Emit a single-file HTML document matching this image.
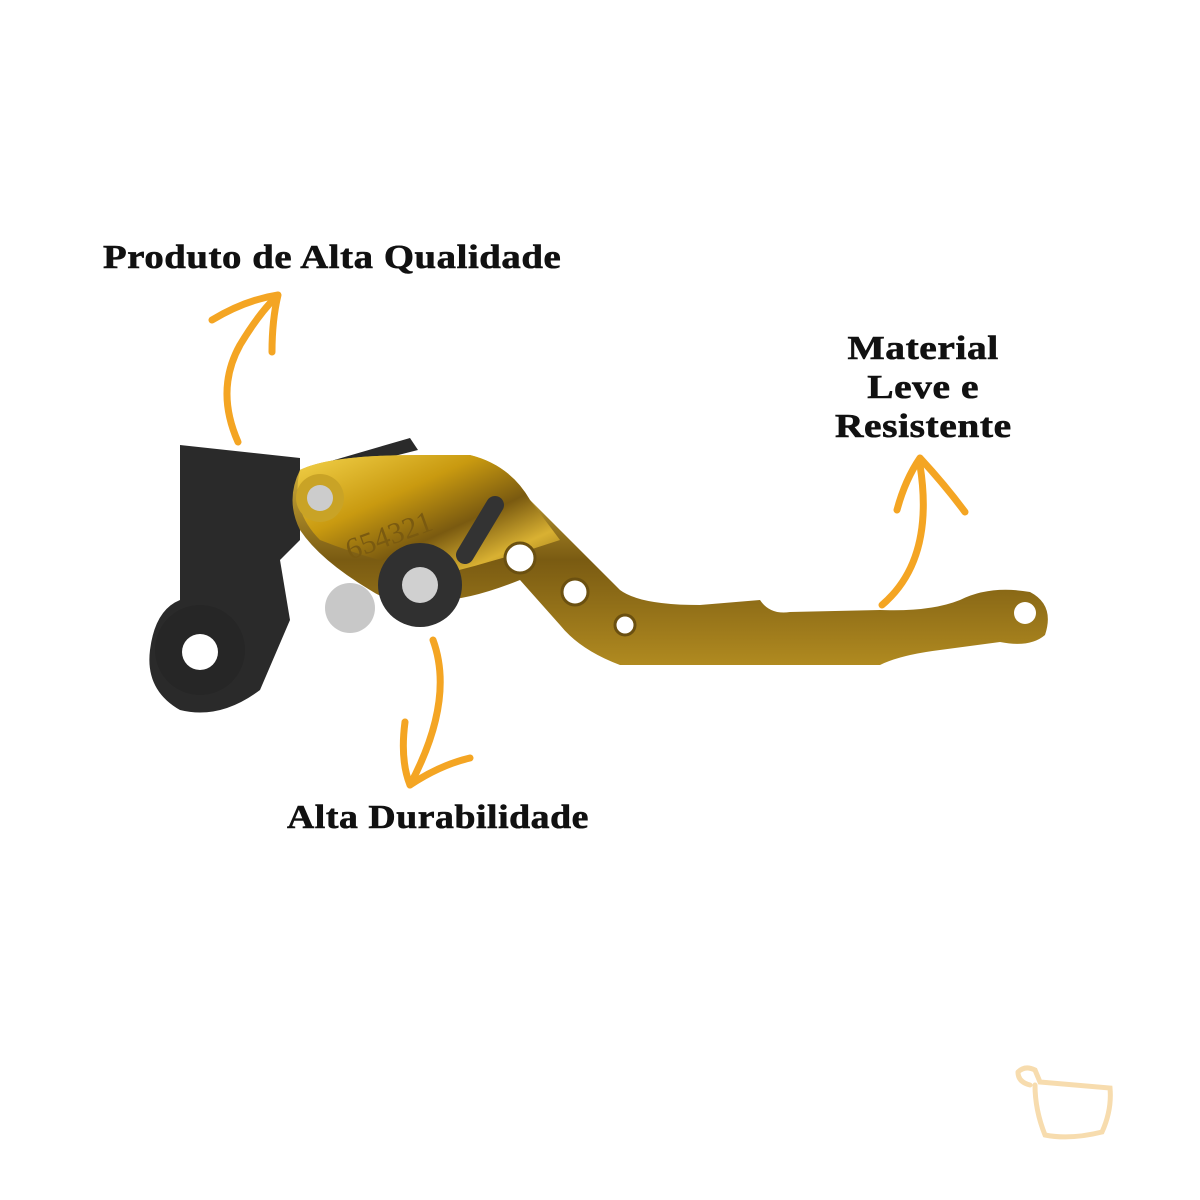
<!DOCTYPE html>
<html><head><meta charset="utf-8"><style>
html,body{margin:0;padding:0;background:#fff;}
body{width:1200px;height:1200px;position:relative;overflow:hidden;}
.t{position:absolute;font-family:"Liberation Serif",serif;font-weight:bold;color:#111;font-size:34px;white-space:nowrap;letter-spacing:0.5px;transform-origin:0 0;transform:scaleX(1.16);-webkit-text-stroke:0.6px #111;}
</style></head><body>
<svg width="1200" height="1200" style="position:absolute;left:0;top:0">
<defs>
<linearGradient id="g" x1="0" y1="0" x2="1" y2="1">
<stop offset="0" stop-color="#f3d24a"/><stop offset="0.35" stop-color="#c99a10"/>
<stop offset="0.6" stop-color="#7a5a10"/><stop offset="0.8" stop-color="#d9b132"/><stop offset="1" stop-color="#8a6812"/>
</linearGradient>
<linearGradient id="g2" x1="0" y1="0" x2="0" y2="1">
<stop offset="0" stop-color="#d9b740"/><stop offset="0.5" stop-color="#7a5b12"/><stop offset="1" stop-color="#b08a20"/>
</linearGradient>
</defs>
<path d="M180 445 L300 458 L300 470 L410 438 L418 450 L300 480 L300 540 L280 560 L290 620 L260 690 Q220 720 180 710 Q145 690 150 650 Q155 610 180 600 Z" fill="#2a2a2a"/>
<circle cx="200" cy="650" r="45" fill="#262626"/>
<circle cx="200" cy="652" r="18" fill="#fff"/>
<path d="M300 470 Q330 455 420 455 L470 455 Q510 465 530 500 L620 590 Q640 605 700 605 L760 600 Q770 615 790 612 L880 610 Q930 612 960 600 Q990 585 1030 592 Q1055 605 1045 635 Q1030 648 1000 642 L940 650 Q900 655 880 665 L620 665 Q580 650 560 625 L520 580 Q470 600 440 600 Q400 610 370 590 Q320 560 300 530 Q285 500 300 470 Z" fill="url(#g2)"/>
<path d="M300 470 Q330 455 420 455 L470 455 Q510 465 530 500 L560 540 Q500 560 440 575 Q370 560 320 540 Q290 510 300 470 Z" fill="url(#g)"/>
<circle cx="320" cy="498" r="24" fill="#c9a326"/>
<circle cx="320" cy="498" r="13" fill="#ccc"/>
<circle cx="520" cy="558" r="15" fill="#fff" stroke="#6b5010" stroke-width="3"/>
<circle cx="575" cy="592" r="13" fill="#fff" stroke="#6b5010" stroke-width="3"/>
<circle cx="625" cy="625" r="10" fill="#fff" stroke="#6b5010" stroke-width="3"/>
<circle cx="1025" cy="613" r="11" fill="#fff"/>
<path d="M495 505 L465 555" stroke="#333" stroke-width="18" stroke-linecap="round"/>
<circle cx="420" cy="585" r="42" fill="#303030"/>
<circle cx="420" cy="585" r="18" fill="#d0d0d0"/>
<circle cx="350" cy="608" r="25" fill="#c8c8c8"/>
<text x="350" y="560" font-family="Liberation Serif,serif" font-size="30" fill="#7a5a10" transform="rotate(-20 350 560)">654321</text>
<g stroke="#f4a523" stroke-width="7" fill="none" stroke-linecap="round" stroke-linejoin="round">
<path d="M238 442 Q215 390 240 345 Q258 315 275 298"/>
<path d="M212 320 Q245 300 278 295 Q272 320 272 352"/>
<path d="M433 640 Q455 700 410 785"/>
<path d="M405 722 Q400 760 410 785 Q440 765 470 758"/>
<path d="M882 605 Q935 560 920 465"/>
<path d="M897 510 Q905 480 920 458 Q945 485 965 512"/>
</g>
<path d="M1018 1072 Q1025 1065 1035 1070 L1040 1082 L1110 1088 Q1112 1110 1102 1132 Q1070 1140 1045 1135 Q1035 1110 1035 1085 M1030 1085 Q1018 1082 1018 1072" stroke="#f7dcae" stroke-width="5" fill="none" stroke-linecap="round"/>
</svg>
<div class="t" style="left:103px;top:239px;transform:scaleX(1.14)">Produto de Alta Qualidade</div>
<div class="t" style="left:287px;top:799px;transform:scaleX(1.11)">Alta Durabilidade</div>
<div class="t" style="left:835px;top:329px;width:152px;text-align:center;line-height:39px">Material<br>Leve e<br>Resistente</div>
</body></html>
